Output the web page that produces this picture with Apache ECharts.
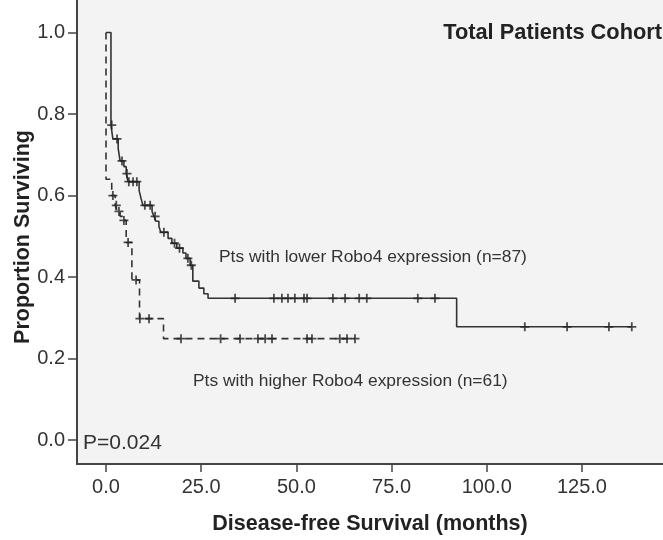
<!DOCTYPE html>
<html>
<head>
<meta charset="utf-8">
<script src="https://cdn.jsdelivr.net/npm/echarts@6/dist/echarts.min.js"></script>
<style>
html,body{margin:0;padding:0;background:#fff;}
#chart{width:663px;height:540px;}
</style>
</head>
<body>
<div id="chart"></div>
<script>
// Kaplan-Meier step points (time in months, proportion surviving)
var lowerTimes = [0, 1.3, 1.8, 3.2, 3.7, 4.7, 5.3, 5.8, 8.7, 9.2, 9.7, 12.1, 12.6, 13.1, 13.9, 14.4, 16.3, 17.3, 18.6, 20.2, 21.0, 22.1, 22.8, 24.4, 25.7, 26.8, 92.1, 138.1];
var lowerSurv  = [1.0, 0.773, 0.739, 0.715, 0.685, 0.671, 0.654, 0.634, 0.612, 0.593, 0.576, 0.561, 0.549, 0.537, 0.524, 0.510, 0.495, 0.483, 0.471, 0.459, 0.446, 0.429, 0.390, 0.373, 0.359, 0.348, 0.278, 0.278];

var higherTimes = [0, 0, 1.5, 2.4, 2.9, 3.7, 4.5, 5.3, 6.8, 8.8, 15.1, 65.4];
var higherSurv  = [1.0, 0.64, 0.600, 0.576, 0.561, 0.549, 0.539, 0.485, 0.393, 0.298, 0.249, 0.249];

// Censored observations
var lowerCensorTimes = [1.5, 2.9, 4.2, 5.5, 6.0, 7.1, 8.1, 10.2, 11.6, 12.9, 15.2, 18.0, 19.3, 21.5, 22.4, 33.9, 44.1, 46.2, 47.8, 49.6, 52.0, 52.8, 59.6, 62.8, 66.5, 68.5, 81.9, 86.4, 110.0, 121.1, 132.1, 138.1];
var lowerCensorSurv  = [0.773, 0.739, 0.685, 0.654, 0.634, 0.634, 0.634, 0.576, 0.576, 0.549, 0.510, 0.483, 0.471, 0.446, 0.429, 0.348, 0.348, 0.348, 0.348, 0.348, 0.348, 0.348, 0.348, 0.348, 0.348, 0.348, 0.348, 0.348, 0.278, 0.278, 0.278, 0.278];

var higherCensorTimes = [1.8, 2.7, 3.4, 4.7, 5.8, 7.9, 8.9, 11.3, 19.7, 30.1, 35.2, 39.9, 41.8, 43.6, 52.8, 54.1, 61.4, 63.3, 65.4];
var higherCensorSurv  = [0.600, 0.576, 0.561, 0.539, 0.485, 0.393, 0.298, 0.298, 0.249, 0.249, 0.249, 0.249, 0.249, 0.249, 0.249, 0.249, 0.249, 0.249, 0.249];

var xTicks = [0, 25, 50, 75, 100, 125];
var yTicks = [0, 0.2, 0.4, 0.6, 0.8, 1.0];

var labelLower = 'Pts with lower Robo4 expression (n=87)';
var labelHigher = 'Pts with higher Robo4 expression (n=61)';
var chartTitle = 'Total Patients Cohort';
var pValue = 'P=0.024';
var yTitle = 'Proportion Surviving';
var xTitle = 'Disease-free Survival (months)';

function zip(a, b) { return a.map(function (v, i) { return [v, b[i]]; }); }

var FONT = '"Liberation Sans", Arial, sans-serif';
var INK = '#333';
var AXIS = '#444';
var crossPath = 'path://M4,0H6V4H10V6H6V10H4V6H0V4H4Z';

var chart = echarts.init(document.getElementById('chart'), null, {renderer: 'canvas'});
chart.setOption({
  backgroundColor: '#ffffff',
  animation: false,
  grid: {left: 77, right: 0, top: 0, bottom: 73, show: true, backgroundColor: '#f3f3f3', borderWidth: 0},
  xAxis: {
    type: 'value', min: -7.62, max: 146.3,
    name: xTitle, nameLocation: 'middle', nameGap: 49,
    nameTextStyle: {fontFamily: FONT, fontSize: 21.5, fontWeight: 'bold', color: '#222'},
    axisLine: {show: true, onZero: false, lineStyle: {color: AXIS, width: 2}},
    axisTick: {show: true, length: 8, customValues: xTicks, lineStyle: {color: AXIS, width: 1.5}},
    axisLabel: {customValues: xTicks, margin: 13, fontFamily: FONT, fontSize: 20, color: INK,
      formatter: function (v) { return v.toFixed(1); }},
    splitLine: {show: false}
  },
  yAxis: {
    type: 'value', min: -0.0585, max: 1.0797,
    axisLine: {show: true, onZero: false, lineStyle: {color: AXIS, width: 2}},
    axisTick: {show: true, length: 9, customValues: yTicks, lineStyle: {color: AXIS, width: 1.5}},
    axisLabel: {customValues: yTicks, margin: 12, fontFamily: FONT, fontSize: 20, color: INK,
      formatter: function (v) { return v.toFixed(1); }},
    splitLine: {show: false}
  },
  series: [
    {type: 'line', step: 'end', data: zip(lowerTimes, lowerSurv), showSymbol: false,
      lineStyle: {color: '#333', width: 1.6, type: 'solid'}, z: 3},
    {type: 'line', step: 'end', data: zip(higherTimes, higherSurv), showSymbol: false,
      lineStyle: {color: '#333', width: 1.6, type: [7, 5]}, z: 3},
    {type: 'scatter', data: zip(lowerCensorTimes, lowerCensorSurv), symbol: crossPath, symbolSize: 9,
      itemStyle: {color: '#222'}, z: 4},
    {type: 'scatter', data: zip(higherCensorTimes, higherCensorSurv), symbol: crossPath, symbolSize: 9,
      itemStyle: {color: '#222'}, z: 4}
  ],
  graphic: [
    {type: 'text', x: 23, y: 237, rotation: Math.PI / 2,
      style: {text: yTitle, fontFamily: FONT, fontSize: 21.5, fontWeight: 'bold', fill: '#222', align: 'center', verticalAlign: 'middle'}},
    {type: 'text', right: 1, top: 22, style: {text: chartTitle, fontFamily: FONT, fontSize: 21.8, fontWeight: 'bold', fill: '#222'}},
    {type: 'text', left: 219, top: 249, style: {text: labelLower, fontFamily: FONT, fontSize: 17.4, fill: INK}},
    {type: 'text', left: 193, top: 373, style: {text: labelHigher, fontFamily: FONT, fontSize: 17.4, fill: INK}},
    {type: 'text', left: 83, top: 433, style: {text: pValue, fontFamily: FONT, fontSize: 21, fill: INK}}
  ]
});
</script>
</body>
</html>
